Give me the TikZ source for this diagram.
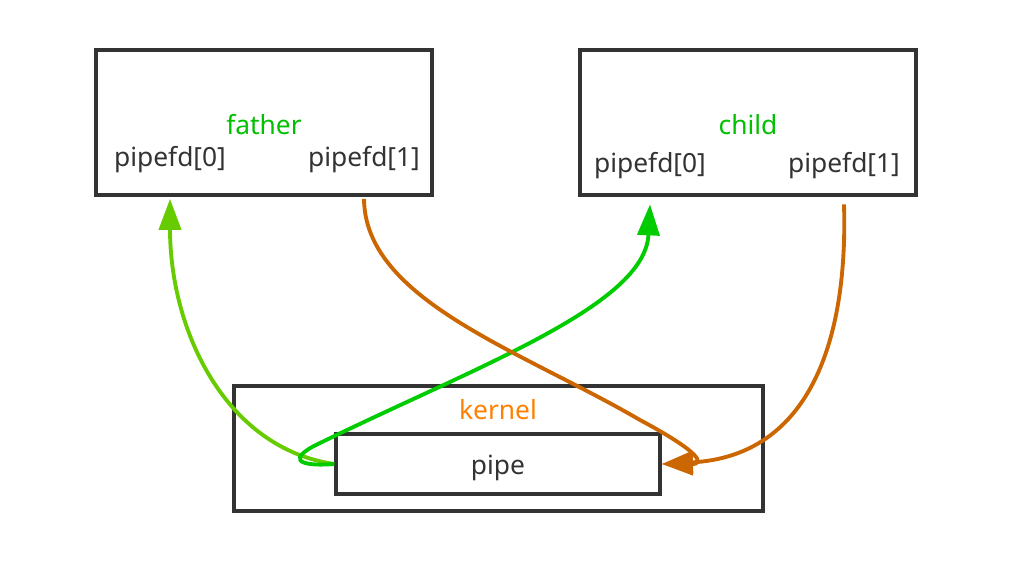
\documentclass[tikz,border=0pt]{standalone}
\usepackage{fontspec}
\setmainfont{Noto Sans}
\usetikzlibrary{arrows.meta}
\definecolor{boxgray}{HTML}{333333}
\definecolor{procgreen}{HTML}{00C000}
\definecolor{kernorange}{HTML}{FF8000}
\definecolor{readgreen}{HTML}{66CC00}
\definecolor{pipegreen}{HTML}{00CC00}
\definecolor{writeorange}{HTML}{CC6600}
\tikzset{
  box/.style={draw=boxgray,line width=2.1pt,inner sep=0},
  txt/.style={text=boxgray,font=\fontsize{15}{18}\selectfont,inner sep=0},
  flow/.style={line width=2.2pt,-{Triangle[length=0.62cm,width=0.44cm]}}
}
\begin{document}
\begin{tikzpicture}[x=0.02cm,y=-0.02cm]
\useasboundingbox (0,0) rectangle (1014,562);
\node[box,minimum width=6.72cm,minimum height=2.9cm] (father) at (264,122.5) {};
\node[box,minimum width=6.72cm,minimum height=2.9cm] (child) at (748,122.5) {};
\node[box,minimum width=10.58cm,minimum height=2.5cm] (kernel) at (498.5,448.5) {};
\node[box,minimum width=6.48cm,minimum height=1.2cm] (pipe) at (498,464) {};
\node[txt,text=procgreen] (fname) at (264,125) {father};
\node[txt] (fr) at (170,160) {pipefd[0]};
\node[txt] (fw) at (364,160) {pipefd[1]};
\node[txt,text=procgreen] (cname) at (748,125) {child};
\node[txt] (cr) at (650,166) {pipefd[0]};
\node[txt] (cw) at (844,166) {pipefd[1]};
\node[txt,text=kernorange] (kname) at (498,410) {kernel};
\node[txt] (pname) at (498,468) {pipe};
\coordinate (fin) at ([yshift=-0.04cm]fr |- father.south);
\coordinate (fout) at ([yshift=-0.04cm]fw |- father.south);
\coordinate (cin) at ([yshift=-0.15cm]cr |- child.south);
\coordinate (cout) at ([yshift=-0.15cm]cw |- child.south);
\draw[flow,readgreen] (pipe.west) .. controls (225,448) and (170,330) .. (fin);
\draw[flow,pipegreen] (pipe.west) .. controls (295,467) and (288,458) .. (320,443)
  .. controls (480,365) and (645,305) .. (cin);
\draw[flow,writeorange] (cout) .. controls (848,340) and (810,456) .. (pipe.east);
\draw[flow,writeorange] (fout) .. controls (365,300) and (520,350) .. (640,420)
  .. controls (700,452) and (705,464) .. (pipe.east);
\end{tikzpicture}
\end{document}
